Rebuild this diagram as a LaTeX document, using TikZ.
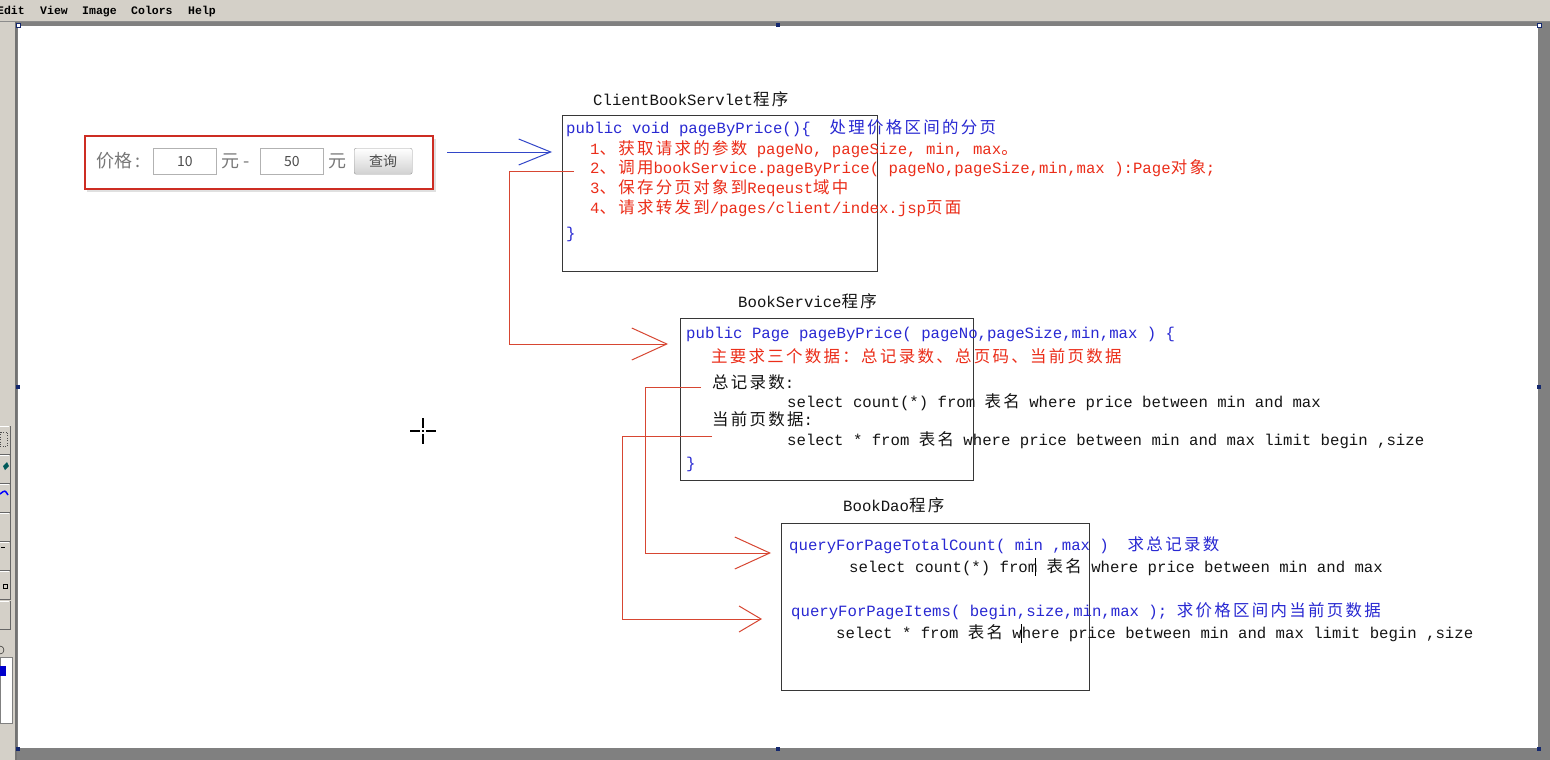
\documentclass[tikz,border=0pt]{standalone}
\usepackage{fontspec}
\setmainfont{Liberation Sans}
\setmonofont{Liberation Mono}
\newfontfamily\zhf[Scale=1.05,LetterSpace=14]{Noto Sans CJK SC}
\newfontfamily\uif{Noto Sans CJK SC}
\newcommand\zh[1]{{\zhf #1}}
\usetikzlibrary{arrows.meta}
\definecolor{codeblue}{RGB}{40,40,210}
\definecolor{codered}{RGB}{235,45,25}
\definecolor{linered}{RGB}{215,70,50}
\definecolor{arrowblue}{RGB}{50,70,200}
\definecolor{ink}{RGB}{20,20,20}
\definecolor{winbg}{RGB}{212,208,200}
\definecolor{workspace}{RGB}{128,128,128}
\definecolor{handle}{RGB}{20,40,110}
\definecolor{pricered}{RGB}{205,45,35}
\definecolor{uigray}{RGB}{120,120,120}
\tikzset{
  code/.style={anchor=base west, inner sep=0pt, text=ink, font={\ttfamily\fontsize{15.67}{18}\selectfont}},
  codebox/.style={draw=ink!85, line width=1.3pt, anchor=north west, inner sep=0pt},
  redline/.style={draw=linered, line width=1pt},
  menu/.style={anchor=base west, inner sep=0pt, font={\ttfamily\bfseries\fontsize{11.5}{13}\selectfont}},
  ui/.style={inner sep=0pt, font={\uif\fontsize{18}{20}\selectfont}, text=uigray},
  uibox/.style={draw=black!30, fill=white, anchor=north west, inner sep=0pt, line width=0.8pt},
  hdl/.style={fill=handle, minimum size=4pt, inner sep=0pt},
}
\begin{document}
\begin{tikzpicture}[x=1pt,y=-1pt]
\useasboundingbox (0,0) rectangle (1550,760);
% window chrome
\fill[workspace] (0,0) rectangle (1550,760);
\fill[winbg] (0,0) rectangle (1550,21);
\draw[black!45, line width=1pt] (0,21.5) -- (1550,21.5);
\fill[winbg] (0,22) rectangle (15,760);
\draw[black!55, line width=1.5pt] (16,22) -- (16,760);
\fill[white] (18,26) rectangle (1538,748);
\node[menu] (m1) at (-3,15) {Edit};
\node[menu] (m2) at (40,15) {View};
\node[menu] (m3) at (82,15) {Image};
\node[menu] (m4) at (131,15) {Colors};
\node[menu] (m5) at (188,15) {Help};
% toolbar buttons
\foreach \yy in {425,454,483,512,541,570,600} {
  \draw[white, line width=1pt] (0,\yy+1) -- (9,\yy+1);
  \draw[black!60, line width=1pt] (0,\yy+29) -- (10,\yy+29) -- (10,\yy+1);
}
\draw[black!70, dotted] (0,432) rectangle (7,446);
\fill[teal!70!black] (3,466) -- (7,462) -- (9,466) -- (5,470) -- cycle;
\draw[blue, line width=1.5pt] (0,494) .. controls (5,490) .. (8,495);
\draw[black] (1,547) -- (5,547);
\draw[black] (3,584) rectangle (7,588);
\draw[black] (0,646) arc (-90:90:4);
\draw[black!50, fill=white] (0,657) rectangle (12,723);
\fill[blue!80!black] (0,666) rectangle (6,676);
% handles
\node[hdl] (h1) at (778,25) {};
\node[hdl] (h2) at (18,387) {};
\node[hdl] (h3) at (1539,387) {};
\node[hdl] (h4) at (778,749) {};
\node[hdl] (h5) at (18,749) {};
\node[hdl] (h6) at (1539,749) {};
\node[hdl, fill=white, draw=handle, line width=0.5pt] (h7) at (18,25) {};
\node[hdl, fill=white, draw=handle, line width=0.5pt] (h8) at (1539,25) {};
% price widget
\fill[black!12] (87,139) rectangle (436,192);
\node[draw=pricered, line width=1.6pt, fill=white, anchor=north west, minimum width=348pt, minimum height=53pt, inner sep=0pt] (pw) at (84,135) {};
\node[ui, anchor=west] (pl) at (96,161) {价格\,:};
\node[uibox, minimum width=63pt, minimum height=26pt] (in1) at (153,148) {};
\node[ui, font={\uif\fontsize{14}{16}\selectfont}, text=black!70] (v1) at (in1.center) {10};
\node[ui, anchor=west] (y1) at (221,161) {元 -};
\node[uibox, minimum width=63pt, minimum height=26pt] (in2) at (260,148) {};
\node[ui, font={\uif\fontsize{14}{16}\selectfont}, text=black!70] (v2) at (in2.center) {50};
\node[ui, anchor=west] (y2) at (328,161) {元};
\node[draw=black!40, top color=white, bottom color=black!18, rounded corners=2pt, anchor=north west, minimum width=58pt, minimum height=26pt, inner sep=0pt] (btn) at (354,148) {};
\node[ui, font={\uif\fontsize{14}{16}\selectfont}, text=black!70] (bq) at (btn.center) {查询};
% boxes
\node[codebox, minimum width=315pt, minimum height=156pt] (box1) at (562,115) {};
\node[codebox, minimum width=293pt, minimum height=162pt] (box2) at (680,318) {};
\node[codebox, minimum width=308pt, minimum height=167pt] (box3) at (781,523) {};
% titles
\node[code] (t1) at (593,106) {ClientBookServlet\zh{程序}};
\node[code] (t2) at (738,307) {BookService\zh{程序}};
\node[code] (t3) at (843,511) {BookDao\zh{程序}};
% servlet text
\node[code, text=codeblue] (c0) at (566,133) {public void pageByPrice()\{\ \ \zh{处理价格区间的分页}};
\node[code, text=codered] (c1) at (590,154) {1\zh{、获取请求的参数} pageNo, pageSize, min, max\zh{。}};
\node[code, text=codered] (c2) at (590,173) {2\zh{、调用}bookService.pageByPrice( pageNo,pageSize,min,max ):Page\zh{对象};};
\node[code, text=codered] (c3) at (590,193) {3\zh{、保存分页对象到}Reqeust\zh{域中}};
\node[code, text=codered] (c4) at (590,213) {4\zh{、请求转发到}/pages/client/index.jsp\zh{页面}};
\node[code, text=codeblue] (c5) at (566,238) {\}};
% service text
\node[code, text=codeblue] (s0) at (686,338) {public Page pageByPrice( pageNo,pageSize,min,max ) \{};
\node[code, text=codered] (s1) at (711,362) {\zh{主要求三个数据：总记录数、总页码、当前页数据}};
\node[code] (s2) at (712,388) {\zh{总记录数}:};
\node[code] (s3) at (787,407) {select count(*) from \zh{表名} where price between min and max};
\node[code] (s4) at (712,425) {\zh{当前页数据}:};
\node[code] (s5) at (787,445) {select * from \zh{表名} where price between min and max limit begin ,size};
\node[code, text=codeblue] (s6) at (686,468) {\}};
% dao text
\node[code, text=codeblue] (d0) at (789,550) {queryForPageTotalCount( min ,max )\ \ \zh{求总记录数}};
\node[code] (d1) at (849,572) {select count(*) from \zh{表名} where price between min and max};
\node[code, text=codeblue] (d2) at (791,616) {queryForPageItems( begin,size,min,max ); \zh{求价格区间内当前页数据}};
\node[code] (d3) at (836,638) {select * from \zh{表名} where price between min and max limit begin ,size};
% text cursors
\draw[black, line width=1pt] (1035,558) -- (1035,576);
\draw[black, line width=1pt] (1021,624) -- (1021,643);
% crosshair
\draw[black, line width=1.2pt] (410,431) -- (420,431) (426,431) -- (436,431) (423,418) -- (423,428) (423,434) -- (423,444);
\fill[black] (422.4,430.4) rectangle (423.6,431.6);
% connectors
\coordinate (a0) at (447,152);
\coordinate (a1) at (552,152);
\draw[arrowblue, line width=1pt, -{Straight Barb[length=32pt,width=26pt]}] (a0) -- (a1);
\coordinate (r1s) at (574,171);
\coordinate (r1v) at (509,344);
\coordinate (r1e) at (668,344);
\draw[redline, -{Straight Barb[length=35pt,width=32pt]}] (r1s) -| (r1v) -- (r1e);
\coordinate (r2s) at (701,387);
\coordinate (r2v) at (645,553);
\coordinate (r2e) at (771,553);
\draw[redline, -{Straight Barb[length=35pt,width=32pt]}] (r2s) -| (r2v) -- (r2e);
\coordinate (r3s) at (712,436);
\coordinate (r3v) at (622,619);
\coordinate (r3e) at (762,619);
\draw[redline, -{Straight Barb[length=22pt,width=26pt]}] (r3s) -| (r3v) -- (r3e);
\end{tikzpicture}
\end{document}
